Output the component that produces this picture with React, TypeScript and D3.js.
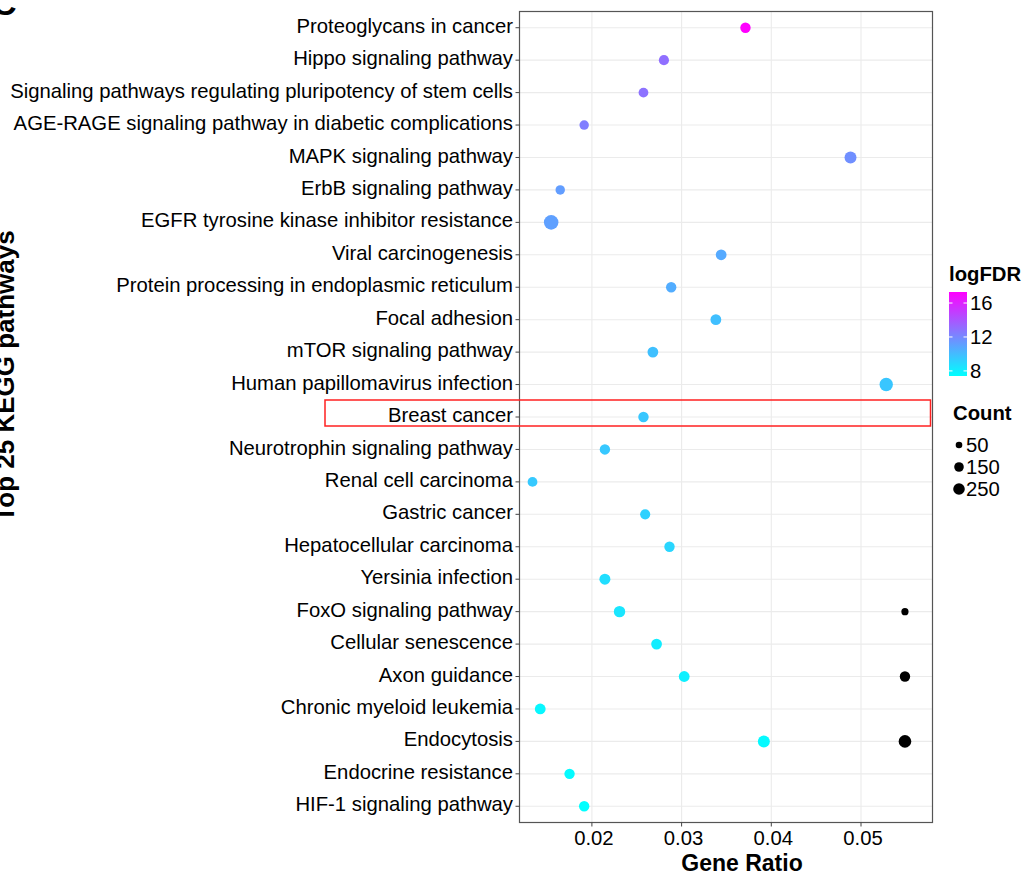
import React, { useEffect } from "react";
import * as d3 from "d3";

const pathways = [
  "Proteoglycans in cancer",
  "Hippo signaling pathway",
  "Signaling pathways regulating pluripotency of stem cells",
  "AGE-RAGE signaling pathway in diabetic complications",
  "MAPK signaling pathway",
  "ErbB signaling pathway",
  "EGFR tyrosine kinase inhibitor resistance",
  "Viral carcinogenesis",
  "Protein processing in endoplasmic reticulum",
  "Focal adhesion",
  "mTOR signaling pathway",
  "Human papillomavirus infection",
  "Breast cancer",
  "Neurotrophin signaling pathway",
  "Renal cell carcinoma",
  "Gastric cancer",
  "Hepatocellular carcinoma",
  "Yersinia infection",
  "FoxO signaling pathway",
  "Cellular senescence",
  "Axon guidance",
  "Chronic myeloid leukemia",
  "Endocytosis",
  "Endocrine resistance",
  "HIF-1 signaling pathway",
];

const geneRatio = [
  0.03712, 0.02803, 0.02575, 0.01914, 0.04883, 0.01647, 0.01546, 0.03441,
  0.02884, 0.03382, 0.0268, 0.05281, 0.02575, 0.02145, 0.01338, 0.02594,
  0.02865, 0.02145, 0.02308, 0.02721, 0.03029, 0.01424, 0.03917, 0.01751,
  0.01914,
];

const logFDR = [
  17.3, 12.98, 12.88, 12.4, 11.75, 11.2, 11.1, 10.7, 10.6, 9.9, 9.86,
  9.62, 9.58, 9.54, 9.48, 9.18, 8.98, 8.69, 8.39, 8.09, 7.99, 7.7, 7.6, 7.55,
  7.4,
];

const geneCount = [
  150, 140, 127, 115, 220, 115, 360, 166, 150, 166, 166, 292, 150, 150, 127,
  140, 150, 175, 192, 166, 166, 166, 220, 150, 150,
];

// black reference dots drawn inside the panel
const markerRows = ["FoxO signaling pathway", "Axon guidance", "Endocytosis"];
const markerCounts = [50, 150, 250];
const markerRatio = 0.0549;

const xTicks = [0.02, 0.03, 0.04, 0.05];
const colorTicks = [8, 12, 16];
const sizeLegend = [50, 150, 250];

const FONT = "'Liberation Sans', Arial, Helvetica, sans-serif";

export default function App() {
  useEffect(() => {
    document.body.style.margin = "0";
  }, []);

  const panel = { left: 519.5, right: 932.5, top: 11.5, bottom: 822.5 };

  const x = d3.scaleLinear().domain([0.01193, 0.05797]).range([panel.left, panel.right]);
  const y = d3.scaleBand().domain(pathways).range([panel.top, panel.bottom]);
  const yc = (p: string) => (y(p) as number) + y.bandwidth() / 2;

  const ext = d3.extent(logFDR) as [number, number];
  const color = d3.scaleLinear<string>().domain(ext).range(["#00FFFF", "#FF00FF"]);
  const r = d3.scalePow().exponent(0.5).domain([50, 250]).range([3.6, 6.3]);

  const bar = { x: 949, w: 18, top: 292, bottom: 376 };
  const cbY = d3.scaleLinear().domain(ext).range([bar.bottom, bar.top]);

  const sizeY = [445, 467, 489];

  const breastY = yc("Breast cancer");

  return (
    <svg
      width={1024}
      height={875}
      style={{ display: "block", background: "#fff", fontFamily: FONT }}
    >
      <defs>
        <linearGradient id="cb" x1="0" y1="1" x2="0" y2="0">
          <stop offset="0%" stopColor={color(ext[0])} />
          <stop offset="100%" stopColor={color(ext[1])} />
        </linearGradient>
        <clipPath id="pclip">
          <rect x={panel.left} y={panel.top} width={panel.right - panel.left} height={panel.bottom - panel.top} />
        </clipPath>
      </defs>
      <rect x={0} y={0} width={1024} height={875} fill="#fff" />

      {/* panel letter (mostly cropped off the top-left edge) */}
      <text x={-8} y={15} fontSize={34} fontWeight="bold" fill="#000">C</text>

      {/* grid */}
      <g>
        {xTicks.map((t) => (
          <line key={t} x1={x(t)} x2={x(t)} y1={panel.top} y2={panel.bottom} stroke="#EBEBEB" strokeWidth={1.1} />
        ))}
        {pathways.map((p) => (
          <line key={p} x1={panel.left} x2={panel.right} y1={yc(p)} y2={yc(p)} stroke="#EBEBEB" strokeWidth={1.1} />
        ))}
      </g>

      {/* points */}
      <g clipPath="url(#pclip)">
        {pathways.map((p, i) => (
          <circle key={p} cx={x(geneRatio[i])} cy={yc(p)} r={r(geneCount[i])} fill={color(logFDR[i])} />
        ))}
        {markerRows.map((p, i) => (
          <circle key={p} cx={x(markerRatio)} cy={yc(p)} r={r(markerCounts[i])} fill="#000" />
        ))}
      </g>

      {/* panel border */}
      <rect
        x={panel.left}
        y={panel.top}
        width={panel.right - panel.left}
        height={panel.bottom - panel.top}
        fill="none"
        stroke="#555"
        strokeWidth={1.2}
      />

      {/* y axis */}
      <g>
        {pathways.map((p) => (
          <g key={p}>
            <line x1={panel.left - 4} x2={panel.left} y1={yc(p)} y2={yc(p)} stroke="#444" strokeWidth={1} />
            <text x={513} y={yc(p)} dy="0.25em" textAnchor="end" fontSize={20.3} fill="#000">
              {p}
            </text>
          </g>
        ))}
      </g>

      {/* x axis */}
      <g>
        {xTicks.map((t) => (
          <g key={t}>
            <line x1={x(t)} x2={x(t)} y1={panel.bottom} y2={panel.bottom + 4} stroke="#444" strokeWidth={1} />
            <text x={x(t) + 2} y={845} textAnchor="middle" fontSize={20.3} fill="#000">
              {d3.format(".2f")(t)}
            </text>
          </g>
        ))}
      </g>

      {/* axis titles */}
      <text x={742} y={871} textAnchor="middle" fontSize={23} fontWeight="bold" fill="#000">
        Gene Ratio
      </text>
      <text
        transform={`translate(14,376) rotate(-90)`}
        textAnchor="middle"
        fontSize={26}
        fontWeight="bold"
        fill="#000"
      >
        Top 25 KEGG pathways
      </text>

      {/* highlight box */}
      <rect
        x={325}
        y={breastY - 17}
        width={930.5 - 325}
        height={26}
        fill="none"
        stroke="#FF2020"
        strokeWidth={1.5}
      />

      {/* color legend */}
      <text x={949} y={281} fontSize={20.3} fontWeight="bold" fill="#000">logFDR</text>
      <rect x={bar.x} y={bar.top} width={bar.w} height={bar.bottom - bar.top} fill="url(#cb)" />
      {colorTicks.map((t) => (
        <g key={t}>
          <line x1={bar.x} x2={bar.x + 3.5} y1={cbY(t)} y2={cbY(t)} stroke="#fff" strokeWidth={1} />
          <line x1={bar.x + bar.w - 3.5} x2={bar.x + bar.w} y1={cbY(t)} y2={cbY(t)} stroke="#fff" strokeWidth={1} />
          <text x={970} y={cbY(t)} dy="0.36em" fontSize={20.3} fill="#000">{t}</text>
        </g>
      ))}

      {/* size legend */}
      <text x={953} y={420} fontSize={20.3} fontWeight="bold" fill="#000">Count</text>
      {sizeLegend.map((c, i) => (
        <g key={c}>
          <circle cx={959} cy={sizeY[i]} r={r(c) * 0.92} fill="#000" />
          <text x={966} y={sizeY[i]} dy="0.36em" fontSize={20.3} fill="#000">{c}</text>
        </g>
      ))}
    </svg>
  );
}
